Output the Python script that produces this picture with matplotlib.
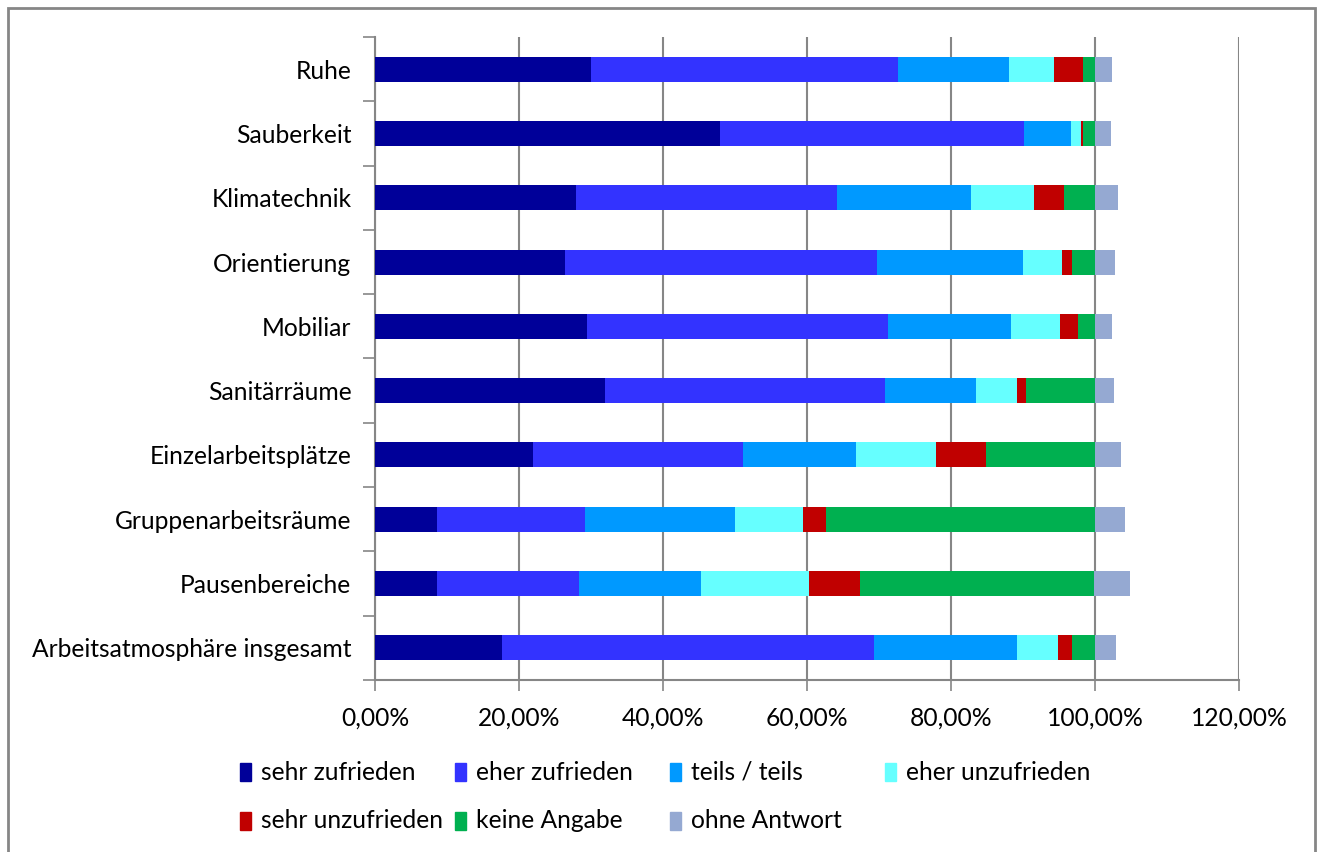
import numpy as np
import matplotlib.pyplot as plt
from matplotlib.patches import Rectangle
from matplotlib.ticker import FuncFormatter

plt.rcParams['font.family'] = ['Lato', 'DejaVu Sans']

# categories from top to bottom
categories = ['Ruhe', 'Sauberkeit', 'Klimatechnik', 'Orientierung', 'Mobiliar',
              'Sanitärräume', 'Einzelarbeitsplätze', 'Gruppenarbeitsräume',
              'Pausenbereiche', 'Arbeitsatmosphäre insgesamt']

# shares in percent, same order as categories
sehr_zufrieden = [30.0, 47.9, 27.9, 26.4, 29.5, 31.9, 21.9, 8.6, 8.6, 17.7]
eher_zufrieden = [42.6, 42.3, 36.3, 43.3, 41.8, 39.0, 29.2, 20.5, 19.8, 51.6]
teils_teils = [15.5, 6.5, 18.6, 20.3, 17.1, 12.6, 15.7, 20.9, 16.9, 19.9]
eher_unzufrieden = [6.2, 1.3, 8.7, 5.4, 6.8, 5.7, 11.1, 9.4, 15.0, 5.7]
sehr_unzufrieden = [4.0, 0.3, 4.2, 1.4, 2.4, 1.2, 7.0, 3.3, 7.1, 1.9]
keine_angabe = [1.7, 1.7, 4.3, 3.2, 2.4, 9.6, 15.1, 37.3, 32.5, 3.2]
ohne_antwort = [2.3, 2.2, 3.2, 2.8, 2.3, 2.7, 3.6, 4.2, 5.0, 2.9]

series = [
    ('sehr zufrieden', sehr_zufrieden, '#000099'),
    ('eher zufrieden', eher_zufrieden, '#3333ff'),
    ('teils / teils', teils_teils, '#0099ff'),
    ('eher unzufrieden', eher_unzufrieden, '#66ffff'),
    ('sehr unzufrieden', sehr_unzufrieden, '#c00000'),
    ('keine Angabe', keine_angabe, '#00b050'),
    ('ohne Antwort', ohne_antwort, '#95a9d2'),
]

FS = 17.7
fig = plt.figure(figsize=(13.21, 8.52), dpi=100)
W, H = 1321, 852
ax = fig.add_axes([375 / W, 1 - 680 / H, (1239 - 375) / W, (680 - 37) / H])

y = np.arange(len(categories))[::-1]
left = np.zeros(len(categories))
for name, vals, color in series:
    vals = np.array(vals)
    ax.barh(y, vals, left=left, height=0.39, color=color, label=name,
            edgecolor='none', zorder=3)
    left += vals

ax.set_xlim(0, 120)
ax.set_ylim(-0.5, len(categories) - 0.5)
ax.set_xticks(np.arange(0, 121, 20))
ax.xaxis.set_major_formatter(FuncFormatter(lambda v, p: f'{v:.2f}%'.replace('.', ',')))
ax.set_yticks(y)
ax.set_yticklabels(categories)
ax.set_yticks(np.arange(-0.5, len(categories), 1), minor=True)
ax.tick_params(axis='y', which='major', length=0, pad=17, labelsize=FS)
ax.tick_params(axis='y', which='minor', length=9, width=1.2, color='#868686')
ax.tick_params(axis='x', length=8, width=1.2, color='#868686', pad=11, labelsize=FS)

ax.grid(axis='x', color='#868686', linewidth=1.5, zorder=0)
for side in ['top', 'right']:
    ax.spines[side].set_visible(False)
for side in ['left', 'bottom']:
    ax.spines[side].set_color('#868686')
    ax.spines[side].set_linewidth(1.5)

# legend in fixed-width columns, row by row
for i, (name, vals, color) in enumerate(series):
    col, row = i % 4, i // 4
    x0 = 240 + 215 * col
    y0 = 772 + 49 * row
    fig.patches.append(Rectangle((x0 / W, 1 - (y0 + 9) / H), 11 / W, 18 / H,
                                 transform=fig.transFigure, color=color))
    fig.text((x0 + 21) / W, 1 - y0 / H, name, fontsize=FS, va='center', ha='left')

# outer chart border
fig.patches.append(Rectangle((8 / W, -0.1), (1315 - 8) / W, 1.1 - 8 / H,
                             transform=fig.transFigure, fill=False,
                             edgecolor='#868686', linewidth=2))

fig.savefig('out.png', dpi=100)
